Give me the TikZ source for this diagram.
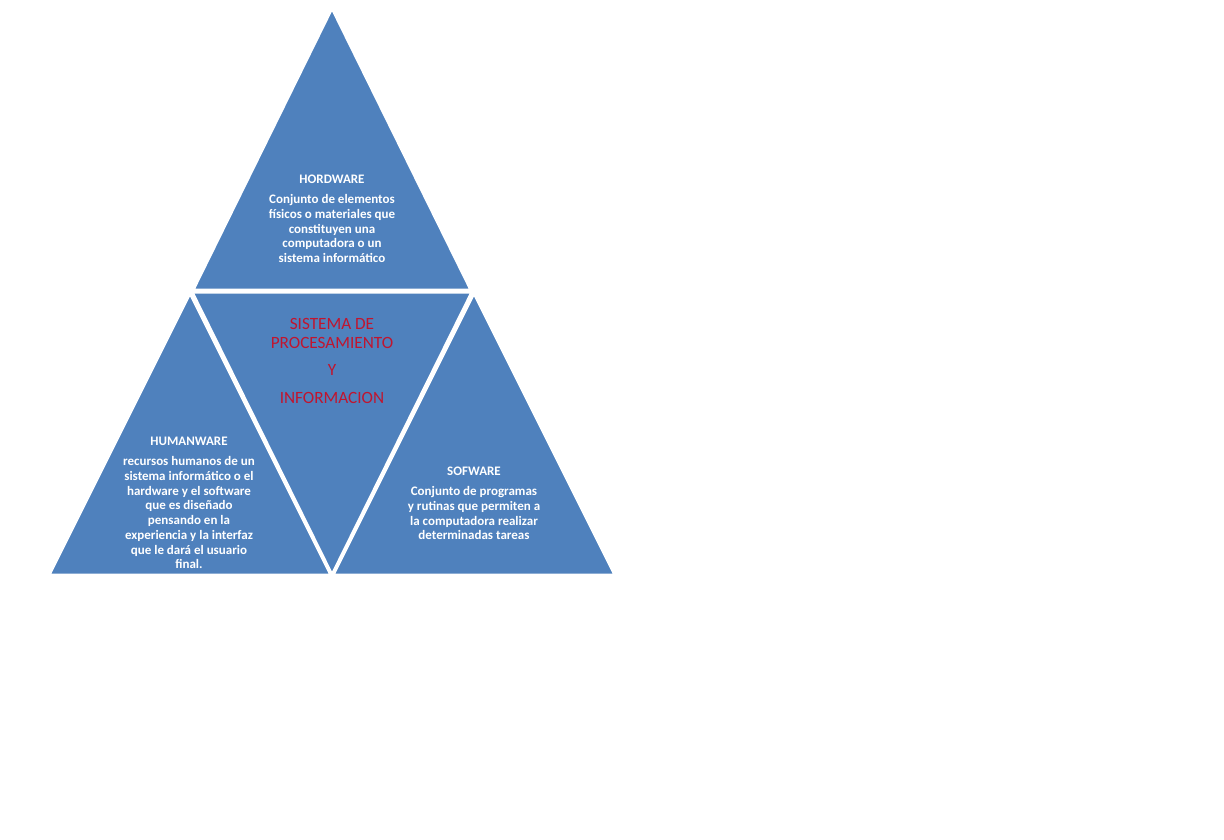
\documentclass[tikz,border=0pt]{standalone}
\usepackage{fontspec}
\setmainfont{Carlito}
\definecolor{tblue}{HTML}{4F81BD}
\definecolor{tred}{HTML}{C0152F}
\begin{document}
\begin{tikzpicture}[x=1pt,y=-1pt,
  tri/.style={fill=tblue,draw=white,line width=3pt,line join=miter},
  ttl/.style={text=white,font=\bfseries\fontsize{13}{14.7}\selectfont,inner sep=0pt,anchor=base},
  body/.style={text=white,font=\bfseries\fontsize{13}{14.7}\selectfont,inner sep=0pt,align=center,anchor=north},
  ctr/.style={text=tred,font=\fontsize{17.2}{18}\selectfont,inner sep=0pt,anchor=base}]
\useasboundingbox (0,0) rectangle (1224,840);
% triangles
\path[tri] (332,8) -- (471,290) -- (193,290) -- cycle;
\path[tri] (192,292) -- (472,292) -- (332,575) -- cycle;
\path[tri] (190,293) -- (331,575) -- (49,575) -- cycle;
\path[tri] (474,293) -- (615,575) -- (333,575) -- cycle;
% top
\node[ttl] (hwt) at (332,184) {HORDWARE};
\node[body] (hwb) at (332,194.5) {Conjunto de elementos\\físicos o materiales que\\constituyen una\\computadora o un\\sistema informático};
% center
\node[ctr] (c1) at (332,329) {SISTEMA DE};
\node[ctr] (c2) at (332,348) {PROCESAMIENTO};
\node[ctr] (c3) at (332,375) {Y};
\node[ctr] (c4) at (332,403) {INFORMACION};
% left
\node[ttl] (hut) at (189,445) {HUMANWARE};
\node[body] (hub) at (189,456.5) {recursos humanos de un\\sistema informático o el\\hardware y el software\\que es diseñado\\pensando en la\\experiencia y la interfaz\\que le dará el usuario\\final.};
% right
\node[ttl] (swt) at (474,475) {SOFWARE};
\node[body] (swb) at (474,486.5) {Conjunto de programas\\y rutinas que permiten a\\la computadora realizar\\determinadas tareas};
\end{tikzpicture}
\end{document}
